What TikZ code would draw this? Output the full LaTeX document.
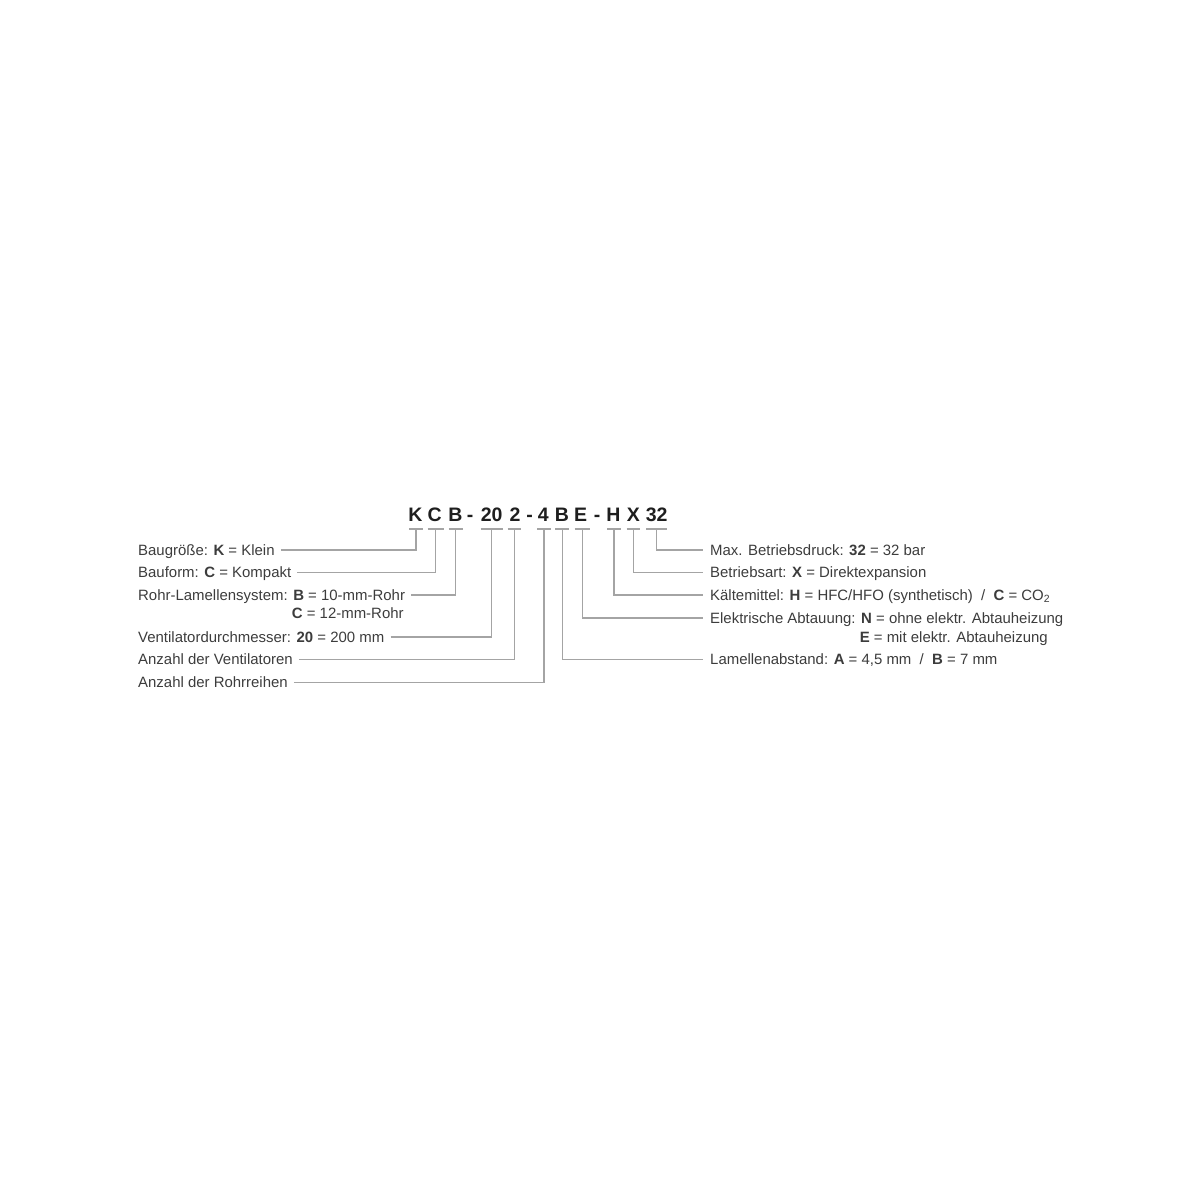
\documentclass[tikz,border=0pt]{standalone}
\usepackage{fontspec}
\setmainfont{Liberation Sans}
\definecolor{txt}{HTML}{3C3C3C}
\definecolor{codec}{HTML}{1E1E1E}
\definecolor{linec}{HTML}{A4A4A4}
\begin{document}
\begin{tikzpicture}[x=1pt,y=-1pt,
  lbl/.style={inner sep=0pt,text height=10pt,text depth=0pt,anchor=west,font=\fontsize{14.95}{17}\selectfont,text=txt},
  codech/.style={inner sep=0pt,text height=14pt,text depth=0pt,font=\fontsize{19.5}{22}\selectfont\bfseries,text=codec},
  conn/.style={draw=linec,line width=1.1pt},
  ul/.style={draw=linec,line width=1.1pt}]
\useasboundingbox (0,0) rectangle (1200,1200);
% code characters
\node[codech] (cK)  at (415.5,514) {K};
\node[codech] (cC)  at (434.7,514) {C};
\node[codech] (cB)  at (455.5,514) {B};
\node[codech] (h1)  at (470,514) {-};
\node[codech] (c20) at (491.7,514) {20};
\node[codech] (c2)  at (515,514) {2};
\node[codech] (h2)  at (529.5,514) {-};
\node[codech] (c4)  at (543.3,514) {4};
\node[codech] (cB2) at (562,514) {B};
\node[codech] (cE)  at (580.5,514) {E};
\node[codech] (h3)  at (597,514) {-};
\node[codech] (cH)  at (613.3,514) {H};
\node[codech] (cX)  at (633.3,514) {X};
\node[codech] (c32) at (656.7,514) {32};
% underline centres
\coordinate (uK)  at (416,529);
\coordinate (uC)  at (435.7,529);
\coordinate (uB)  at (455.7,529);
\coordinate (u20) at (491.7,529);
\coordinate (u2)  at (514.3,529);
\coordinate (u4)  at (544,529);
\coordinate (uB2) at (562.3,529);
\coordinate (uE)  at (582.3,529);
\coordinate (uH)  at (614,529);
\coordinate (uX)  at (633.3,529);
\coordinate (u32) at (656.7,529);
\foreach \c/\w in {uK/7.2,uC/8,uB/7.2,u20/11,u2/6.7,u4/6.7,uB2/7,uE/7.8,uH/6.7,uX/6.7,u32/10.7}
  \draw[ul] ([xshift=-\w pt]\c) -- ([xshift=\w pt]\c);
% left labels
\node[lbl] (lK)  at (138,550)   {Baugröße: \textbf{K} = Klein};
\node[lbl] (lC)  at (138,572.3) {Bauform: \textbf{C} = Kompakt};
\node[lbl] (lB)  at (138,595)   {Rohr-Lamellensystem: \textbf{B} = 10-mm-Rohr};
\node[lbl] (lB2) at (138,613)   {\phantom{Rohr-Lamellensystem:\ }\textbf{C} = 12-mm-Rohr};
\node[lbl] (l20) at (138,637)   {Ventilatordurchmesser: \textbf{20} = 200 mm};
\node[lbl] (l2)  at (138,659.3) {Anzahl der Ventilatoren};
\node[lbl] (l4)  at (138,682.7) {Anzahl der Rohrreihen};
% right labels
\node[lbl] (r32) at (710,550)   {Max. Betriebsdruck: \textbf{32} = 32 bar};
\node[lbl] (rX)  at (710,572.3) {Betriebsart: \textbf{X} = Direktexpansion};
\node[lbl] (rH)  at (710,595)   {Kältemittel: \textbf{H} = HFC/HFO (synthetisch) \ /\ \ \textbf{C} = CO\textsubscript{2}};
\node[lbl] (rE)  at (710,618)   {Elektrische Abtauung: \textbf{N} = ohne elektr. Abtauheizung};
\node[lbl] (rE2) at (710,637.5) {\phantom{Elektrische Abtauung:\ }\textbf{E} = mit elektr. Abtauheizung};
\node[lbl] (rB)  at (710,659.3) {Lamellenabstand: \textbf{A} = 4,5 mm \ /\ \ \textbf{B} = 7 mm};
% connectors left
\draw[conn] ([xshift=6pt]lK.east)  -| (uK);
\draw[conn] ([xshift=6pt]lC.east)  -| (uC);
\draw[conn] ([xshift=6pt]lB.east)  -| (uB);
\draw[conn] ([xshift=6pt]l20.east) -| (u20);
\draw[conn] ([xshift=6pt]l2.east)  -| (u2);
\draw[conn] ([xshift=6pt]l4.east)  -| (u4);
% connectors right
\draw[conn] (u32) |- ([xshift=-7pt]r32.west);
\draw[conn] (uX)  |- ([xshift=-7pt]rX.west);
\draw[conn] (uH)  |- ([xshift=-7pt]rH.west);
\draw[conn] (uE)  |- ([xshift=-7pt]rE.west);
\draw[conn] (uB2) |- ([xshift=-7pt]rB.west);
\end{tikzpicture}
\end{document}
